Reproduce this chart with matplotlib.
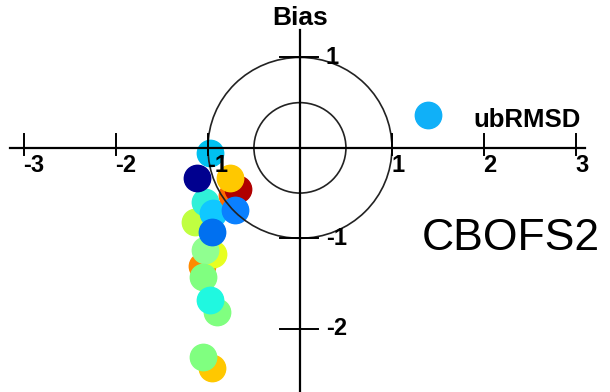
import matplotlib
matplotlib.use("Agg")
import matplotlib.pyplot as plt
from matplotlib.patches import Circle

# normalised target diagram values (x: ubRMSD, y: Bias), back to front
ubrmsd = [-1.06, -0.95, -1.03, -1.05, -0.90, -0.98, -0.96, -1.05,
          -1.14, -1.03, -0.95, -0.96, -0.74, -0.67, -0.76, -0.71,
          -1.12, -0.98, 1.39]
bias = [-1.31, -1.17, -1.13, -1.43, -1.81, -1.68, -2.43, -2.31,
        -0.82, -0.60, -0.72, -0.93, -0.52, -0.46, -0.33, -0.69,
        -0.33, -0.055, 0.365]
colors = ["#ff8a00", "#e8ff20", "#90ff90", "#80ff80", "#80ff80", "#20f8e0",
          "#ffc800", "#80ff80", "#c0ff40", "#30f0d8", "#10c8ff", "#0070f0",
          "#ff6a00", "#b00000", "#ffc800", "#0a80ff", "#00008f", "#00c0f0",
          "#10b0f8"]

xticks = [-3, -2, -1, 1, 2, 3]
yticks = [1, -1, -2]
radii = [0.5, 1.0]
model = "CBOFS2"

bold_font = ["Liberation Sans Narrow", "Liberation Sans"]

fig = plt.figure(figsize=(6.1, 3.92), dpi=100)
ax = fig.add_axes([0, 0, 1, 1])
ax.set_xlim(-3.26, 3.37)
ax.set_ylim(-2.70, 1.635)
ax.axis("off")

for x, y, c in zip(ubrmsd, bias, colors):
    ax.plot(x, y, "o", ms=19, color=c, mec=c, zorder=2)

for r in radii:
    ax.add_patch(Circle((0, 0), r, fill=False, ec="#222222", lw=1.2, zorder=3))

# axes through the origin
ax.plot([-3.15, 3.1], [0, 0], color="black", lw=1.6, zorder=4)
ax.plot([0, 0], [1.30, -2.70], color="black", lw=1.6, zorder=4)

for t in xticks:
    ax.plot([t, t], [0.15, -0.08], color="black", lw=1.4, zorder=4)
    ax.text(t - 0.01, -0.07, str(t), ha="left", va="top", fontsize=17,
            fontweight="bold", family=bold_font, zorder=5)

for t in yticks:
    ax.plot([-0.22, 0.2], [t, t], color="black", lw=1.4, zorder=4)
    ax.text(0.28, t, str(t), ha="left", va="center", fontsize=17,
            fontweight="bold", family=bold_font, zorder=5)

ax.text(0, 1.57, "Bias", ha="center", va="top", fontsize=19,
        fontweight="bold", family=bold_font)
ax.text(1.88, 0.17, "ubRMSD", ha="left", va="bottom", fontsize=18.5,
        fontweight="bold", family=bold_font)
ax.text(2.29, -1.0, model, ha="center", va="center", fontsize=32,
        family="Liberation Sans")

fig.savefig("out.png", dpi=100)
